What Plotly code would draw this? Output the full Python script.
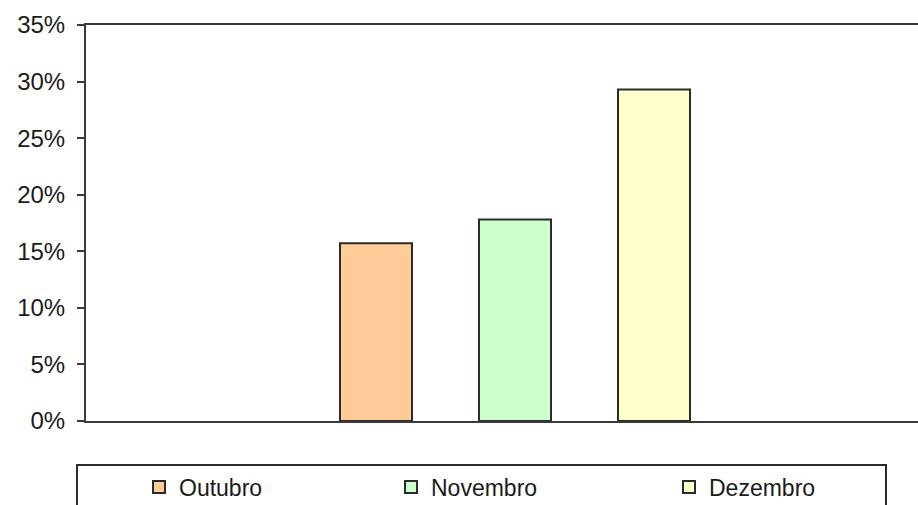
import plotly.graph_objects as go

categories = ["Outubro", "Novembro", "Dezembro"]
values = [0.157, 0.178, 0.293]
colors = ["#FFCC99", "#CCFFCC", "#FFFFCC"]
tick_vals = [0, 0.05, 0.10, 0.15, 0.20, 0.25, 0.30, 0.35]

W, H = 918, 505
L, R, T, B = 86, 0, 25, 84
plot_w = W - L - R
plot_h = H - T - B

def px2paper_x(px):
    return (px - L) / plot_w

def py2paper_y(py):
    return (H - B - py) / plot_h

FONT = "Liberation Sans, Arial, sans-serif"

fig = go.Figure()
legend_names = ["legend", "legend2", "legend3"]
for i, (cat, val, col) in enumerate(zip(categories, values, colors)):
    fig.add_trace(go.Bar(
        x=[cat], y=[val], name=cat,
        marker=dict(color=col, line=dict(color="#2b2b2b", width=2)),
        width=0.518,
        legend=legend_names[i],
        showlegend=True,
    ))

# legend item marker centers in pixels
marker_cx = [159, 411, 689]
legend_cfg = {}
for i, name in enumerate(legend_names):
    legend_cfg[name] = dict(
        x=(marker_cx[i] - 20) / W, xref="container", xanchor="left",
        y=1 - 487 / H, yref="container", yanchor="middle",
        orientation="h", bgcolor="rgba(0,0,0,0)", borderwidth=0,
        font=dict(family=FONT, size=23, color="#1a1a1a"),
        itemclick=False, itemdoubleclick=False,
    )

fig.update_layout(
    width=W, height=H,
    margin=dict(l=L, r=R, t=T, b=B, pad=0),
    paper_bgcolor="white", plot_bgcolor="white",
    barmode="overlay",
    showlegend=True,
    **legend_cfg,
    xaxis=dict(
        type="category",
        categoryorder="array", categoryarray=categories,
        range=[(L - 376) / 139, (W - 376) / 139],
        showticklabels=False, ticks="",
        showline=True, linecolor="#3a3a3a", linewidth=2, mirror=True,
        showgrid=False, zeroline=False,
    ),
    yaxis=dict(
        range=[0, 0.35], tickvals=tick_vals, tickformat=".0%",
        ticks="outside", ticklen=7, tickwidth=2, tickcolor="#3a3a3a",
        ticklabelstandoff=7,
        showline=True, linecolor="#3a3a3a", linewidth=2,
        showgrid=False, zeroline=False,
        tickfont=dict(family=FONT, size=24, color="#1a1a1a"),
    ),
    shapes=[dict(
        type="rect", xref="paper", yref="paper",
        x0=px2paper_x(77), x1=px2paper_x(886),
        y0=py2paper_y(465), y1=py2paper_y(530),
        line=dict(color="#2b2b2b", width=2), fillcolor="rgba(0,0,0,0)",
    )],
)

fig.write_html("out.html")
